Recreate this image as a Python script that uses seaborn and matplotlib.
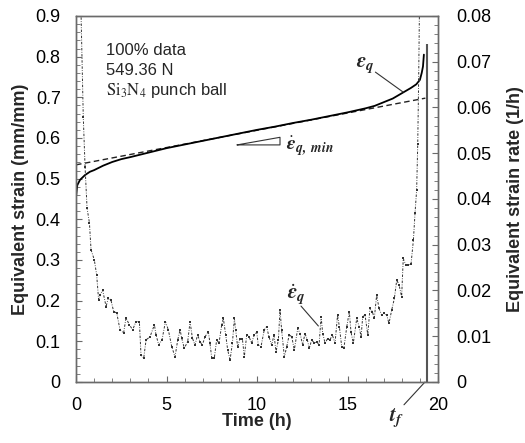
import matplotlib
matplotlib.use("Agg")
import matplotlib.pyplot as plt
import seaborn as sns
import pandas as pd
from matplotlib.ticker import MultipleLocator, FuncFormatter

# ---------------- data ----------------
strain_time = [0, 0.07, 0.22, 0.5, 0.77, 1.0, 1.5, 2.0, 2.5, 3.0, 4.0, 5, 6, 7, 8, 9,
               10, 11, 12, 13, 14, 15, 16, 16.5, 17, 17.5, 18, 18.5, 18.8, 19.0,
               19.1, 19.17, 19.22]
strain_value = [0.455, 0.484, 0.497, 0.509, 0.517, 0.521, 0.532, 0.541, 0.548, 0.553,
                0.564, 0.575, 0.584, 0.593, 0.602, 0.611, 0.620, 0.628, 0.637, 0.645,
                0.654, 0.663, 0.673, 0.679, 0.688, 0.697, 0.710, 0.723, 0.732, 0.743,
                0.760, 0.776, 0.805]

fit_time = [0.0, 19.3]
fit_strain = [0.534, 0.698]

rate_time = [0.20, 0.28, 0.40, 0.50, 0.61, 0.74, 0.83, 1.01, 1.14, 1.25, 1.33, 1.47,
             1.66, 1.79, 1.93, 2.08, 2.25, 2.43, 2.63, 2.76, 2.95, 3.13, 3.31, 3.50,
             3.59, 3.74, 3.87, 4.09, 4.33, 4.42, 4.57, 4.75, 4.94, 5.10, 5.29, 5.47,
             5.62, 5.75, 5.84, 5.98, 6.17, 6.30, 6.43, 6.57, 6.72, 6.85, 6.98, 7.13,
             7.31, 7.40, 7.50, 7.64, 7.77, 7.90, 8.05, 8.14, 8.27, 8.38, 8.51, 8.64,
             8.75, 8.82, 8.93, 9.06, 9.19, 9.30, 9.43, 9.56, 9.70, 9.85, 9.98, 10.07,
             10.22, 10.40, 10.53, 10.66, 10.81, 10.94, 11.05, 11.18, 11.27, 11.36,
             11.51, 11.64, 11.78, 11.92, 12.06, 12.25, 12.38, 12.52, 12.65, 12.78,
             12.89, 13.02, 13.17, 13.30, 13.43, 13.54, 13.63, 13.76, 13.90, 14.03,
             14.16, 14.31, 14.45, 14.55, 14.68, 14.80, 14.96, 15.10, 15.19, 15.32,
             15.51, 15.64, 15.75, 15.84, 15.97, 16.12, 16.24, 16.37, 16.48, 16.61,
             16.74, 16.89, 17.03, 17.17, 17.29, 17.44, 17.59, 17.72, 17.85, 17.99,
             18.08, 18.22, 18.36, 18.51, 18.64, 18.73, 18.82, 18.88, 18.93, 18.97,
             19.00]
rate_value = [0.095, 0.080, 0.058, 0.047, 0.038, 0.0348, 0.0289, 0.0267, 0.0234, 0.0179,
              0.0190, 0.0201, 0.0165, 0.0184, 0.0179, 0.0154, 0.0151, 0.0114, 0.0107,
              0.0140, 0.0125, 0.0114, 0.0132, 0.0132, 0.0059, 0.0052, 0.0092, 0.0099,
              0.0125, 0.0103, 0.0081, 0.0092, 0.0132, 0.0114, 0.0077, 0.0055, 0.0092,
              0.0114, 0.0096, 0.0074, 0.0088, 0.0132, 0.0096, 0.0081, 0.0103, 0.0088,
              0.0081, 0.0099, 0.0110, 0.0085, 0.0052, 0.0052, 0.0092, 0.0085, 0.0125,
              0.0139, 0.0103, 0.0070, 0.0048, 0.0085, 0.0139, 0.0114, 0.0077, 0.0095,
              0.0095, 0.0055, 0.0103, 0.0099, 0.0085, 0.0103, 0.0110, 0.0081, 0.0077,
              0.0114, 0.0121, 0.0099, 0.0081, 0.0103, 0.0066, 0.0092, 0.0157, 0.0114,
              0.0055, 0.0077, 0.0103, 0.0099, 0.0070, 0.0117, 0.0106, 0.0081, 0.0106,
              0.0092, 0.0074, 0.0092, 0.0085, 0.0088, 0.0081, 0.0143, 0.0106, 0.0085,
              0.0095, 0.0092, 0.0103, 0.0085, 0.0146, 0.0121, 0.0077, 0.0074, 0.0121,
              0.0154, 0.0110, 0.0085, 0.0139, 0.0121, 0.0099, 0.0143, 0.0146, 0.0103,
              0.0161, 0.0154, 0.0139, 0.0190, 0.0161, 0.0146, 0.0150, 0.0146, 0.0128,
              0.0157, 0.0183, 0.0223, 0.0212, 0.0186, 0.0270, 0.0256, 0.0256, 0.0258,
              0.0310, 0.0369, 0.0420, 0.0520, 0.0660, 0.0800, 0.0900]

tf_time = 19.39
tf_top = 0.83

x_ticks = [0, 5, 10, 15, 20]
strain_ticks = [0, 0.1, 0.2, 0.3, 0.4, 0.5, 0.6, 0.7, 0.8, 0.9]
rate_ticks = [0, 0.01, 0.02, 0.03, 0.04, 0.05, 0.06, 0.07, 0.08]

info_lines = ["100% data", "549.36 N", r"$\mathrm{Si_3N_4}$ punch ball"]

# annotation geometry
eq_label = (15.97, 0.778)
eq_line = ([16.54, 18.07], [0.762, 0.713])
eqd_label = (12.15, 0.0190)
eqd_line = ([12.43, 13.39], [0.0166, 0.01224])
tf_label = (17.73, -0.090)
tf_line = ([18.12, 19.28], [-0.056, 0.0])
tri_t = [8.9, 11.27, 11.27, 8.9]
tri_s = [0.583, 0.6017, 0.583, 0.583]
min_label = (11.6, 0.580)

# ---------------- styling ----------------
sns.set_style("ticks")
plt.rcParams["font.family"] = ["Liberation Sans", "DejaVu Sans"]
plt.rcParams["mathtext.fontset"] = "stix"

frame_col = "#6a6a6a"

fig = plt.figure(figsize=(5.25, 4.43), dpi=100)
ax = fig.add_axes([0.1448, 0.1377, 0.6895, 0.8262])
ax2 = ax.twinx()

df_strain = pd.DataFrame({"t": strain_time, "s": strain_value})
df_fit = pd.DataFrame({"t": fit_time, "s": fit_strain})
df_rate = pd.DataFrame({"t": rate_time, "r": rate_value})

sns.lineplot(data=df_fit, x="t", y="s", ax=ax, color="#222222", lw=1.0,
             linestyle=(0, (4, 2.5)), sort=False, estimator=None)
sns.lineplot(data=df_strain, x="t", y="s", ax=ax, color="black", lw=1.3,
             sort=False, estimator=None)
ax.vlines(tf_time, 0, tf_top, color="#555555", lw=1.5)

sns.lineplot(data=df_rate, x="t", y="r", ax=ax2, color="#333333", lw=0.7,
             linestyle=(0, (2.5, 1.5, 0.8, 1.5)), marker="s", markersize=1.8,
             markeredgewidth=0, sort=False, estimator=None)

ax.set_xlim(0, 20)
ax.set_ylim(0, 0.9)
ax2.set_ylim(0, 0.08)

ax.set_xticks(x_ticks)
ax.set_yticks(strain_ticks)
ax2.set_yticks(rate_ticks)
ax.xaxis.set_minor_locator(MultipleLocator(1))
ax.yaxis.set_minor_locator(MultipleLocator(0.02))
ax2.yaxis.set_minor_locator(MultipleLocator(0.002))

ax.yaxis.set_major_formatter(FuncFormatter(lambda v, p: "0" if abs(v) < 1e-9 else f"{v:.1f}"))
ax2.yaxis.set_major_formatter(FuncFormatter(lambda v, p: "0" if abs(v) < 1e-9 else f"{v:.2f}"))

for a in (ax, ax2):
    for sp in a.spines.values():
        sp.set_color(frame_col)
        sp.set_linewidth(1.0)
        sp.set_visible(True)

ax.tick_params(axis="x", which="both", direction="in", colors=frame_col,
               labelcolor="black", labelsize=13, pad=11)
ax.tick_params(axis="x", which="major", length=4)
ax.tick_params(axis="x", which="minor", length=3)
ax.tick_params(axis="y", which="both", direction="in", colors=frame_col,
               labelcolor="black", labelsize=13, pad=11)
ax.tick_params(axis="y", which="major", length=4)
ax.tick_params(axis="y", which="minor", length=3)
ax2.tick_params(axis="y", which="both", direction="in", colors=frame_col,
                labelcolor="black", labelsize=13, pad=13)
ax2.tick_params(axis="y", which="major", length=4)
ax2.tick_params(axis="y", which="minor", length=3)

ax.set_xlabel("Time (h)", fontsize=13, fontweight="bold", va="center")
ax.set_ylabel("Equivalent strain (mm/mm)", fontsize=13, fontweight="bold", va="center")
ax2.set_ylabel("Equivalent strain rate (1/h)", fontsize=13, fontweight="bold",
               va="center", rotation=90)
ax.xaxis.set_label_coords(0.5, -0.107)
ax.yaxis.set_label_coords(-0.153, 0.5)
ax2.yaxis.set_label_coords(1.215, 0.5)

# info text
for i, line in enumerate(info_lines):
    ax.text(0.083, 0.893 - i * 0.0545, line, transform=ax.transAxes, fontsize=12,
            va="baseline", ha="left")

# annotations
ax.text(*eq_label, r"$\mathbfit{\varepsilon_q}$", fontsize=15, ha="center", va="center")
ax.plot(*eq_line, color="#333333", lw=0.8)
ax2.text(*eqd_label, r"$\dot{\mathbfit{\varepsilon}}_{\mathbfit{q}}$", fontsize=15,
         ha="center", va="center")
ax2.plot(*eqd_line, color="#333333", lw=0.8)
ax.text(*tf_label, r"$\mathbfit{t_f}$", fontsize=15, ha="center", va="center", clip_on=False)
ax.plot(*tf_line, color="#333333", lw=0.8, clip_on=False)
ax.plot(tri_t, tri_s, color="#333333", lw=0.8)
ax.text(*min_label, r"$\dot{\mathbfit{\varepsilon}}_{\mathbfit{q,\ min}}$", fontsize=14,
        ha="left", va="center")

fig.savefig("out.png", dpi=100)
